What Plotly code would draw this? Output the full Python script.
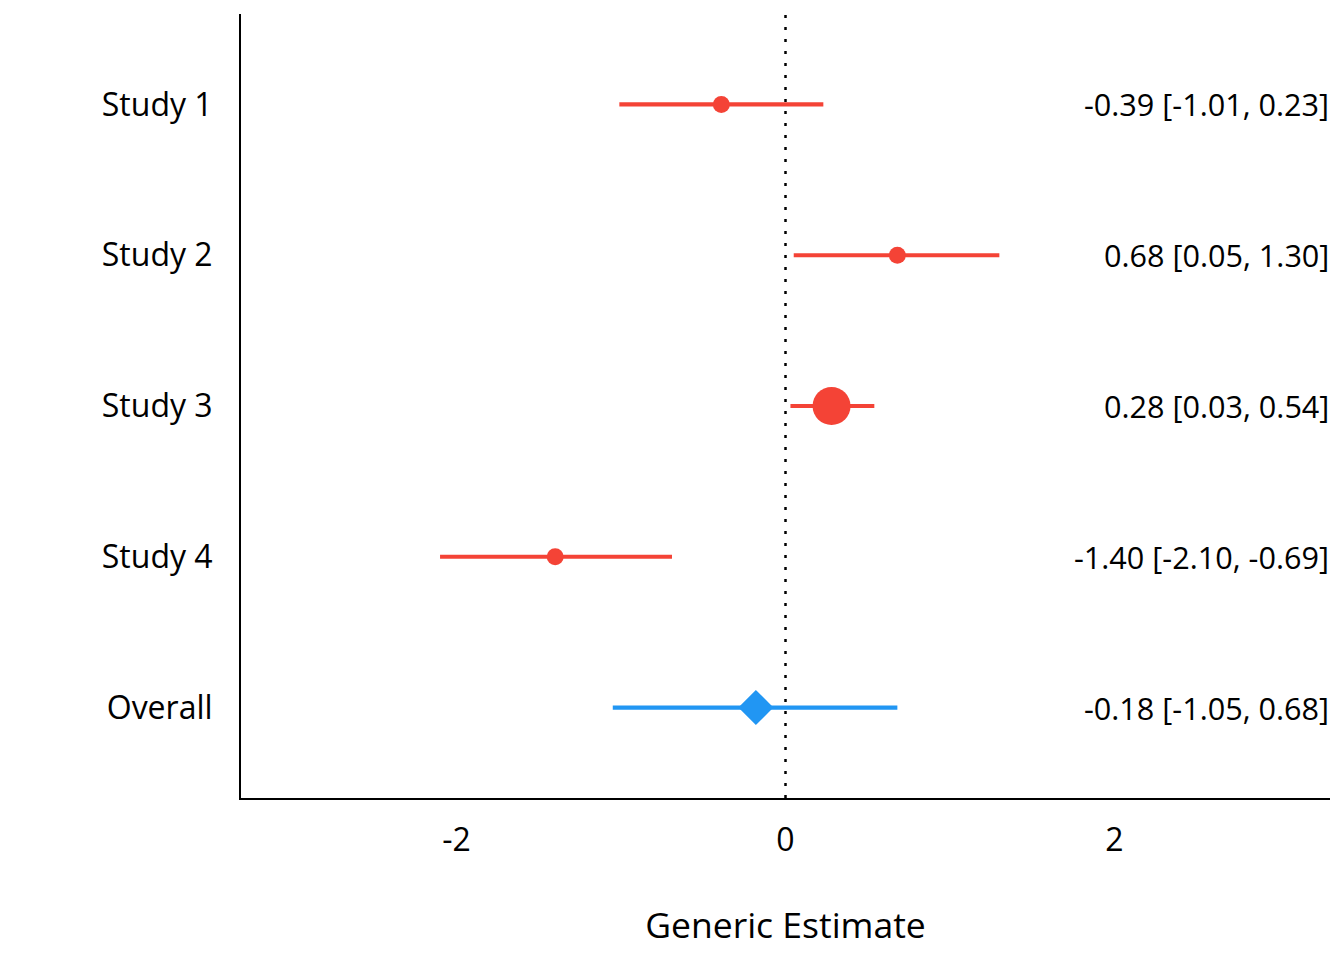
import plotly.graph_objects as go

studies = ["Study 1", "Study 2", "Study 3", "Study 4", "Overall"]
estimate = [-0.39, 0.68, 0.28, -1.40, -0.18]
ci_low = [-1.01, 0.05, 0.03, -2.10, -1.05]
ci_high = [0.23, 1.30, 0.54, -0.69, 0.68]
x_ticks = [-2, 0, 2]

RED = "#F44336"
BLUE = "#2196F3"
FONT = "Open Sans"

fig = go.Figure()

for i, s in enumerate(studies):
    overall = s == "Overall"
    col = BLUE if overall else RED
    # CI line
    fig.add_trace(go.Scatter(
        x=[ci_low[i], ci_high[i]], y=[s, s], mode="lines",
        line=dict(color=col, width=4.2), hoverinfo="skip", showlegend=False,
    ))
    if overall:
        marker = dict(symbol="diamond", size=27, color=col)
    elif s == "Study 3":
        marker = dict(symbol="circle", size=38, color=col)
    else:
        marker = dict(symbol="circle", size=17, color=col)
    fig.add_trace(go.Scatter(
        x=[estimate[i]], y=[s], mode="markers", marker=marker,
        showlegend=False,
    ))
    fig.add_annotation(
        x=1, xref="paper", y=s, yref="y", xanchor="right", xshift=1,
        text=f"{estimate[i]:.2f} [{ci_low[i]:.2f}, {ci_high[i]:.2f}]",
        showarrow=False, font=dict(family=FONT, size=30.6, color="black"),
    )

fig.add_shape(
    type="line", x0=0, x1=0, xref="x", y0=0, y1=1, yref="paper",
    line=dict(color="black", width=2.5, dash="3px,9px"), layer="above",
)

# page body has an 8px margin, so the figure is shrunk to fit the window
fig.update_layout(
    width=1328, height=944,
    margin=dict(l=233, r=6, t=6, b=154),
    plot_bgcolor="white", paper_bgcolor="white",
    font=dict(family=FONT, size=32, color="black"),
    xaxis=dict(
        range=[-3.31, 3.31], tickvals=x_ticks, ticktext=[str(t) for t in x_ticks],
        showgrid=False, zeroline=False, showline=True, linecolor="black",
        linewidth=2, ticks="", ticklabelstandoff=13,
        title=dict(text="Generic Estimate", standoff=54, font=dict(size=35.5)),
    ),
    yaxis=dict(
        type="category", categoryorder="array", categoryarray=studies,
        range=[4.6, -0.6], showgrid=False, zeroline=False, showline=True,
        linecolor="black", linewidth=2, ticks="", ticklabelstandoff=20,
    ),
)

fig.write_html("out.html")
